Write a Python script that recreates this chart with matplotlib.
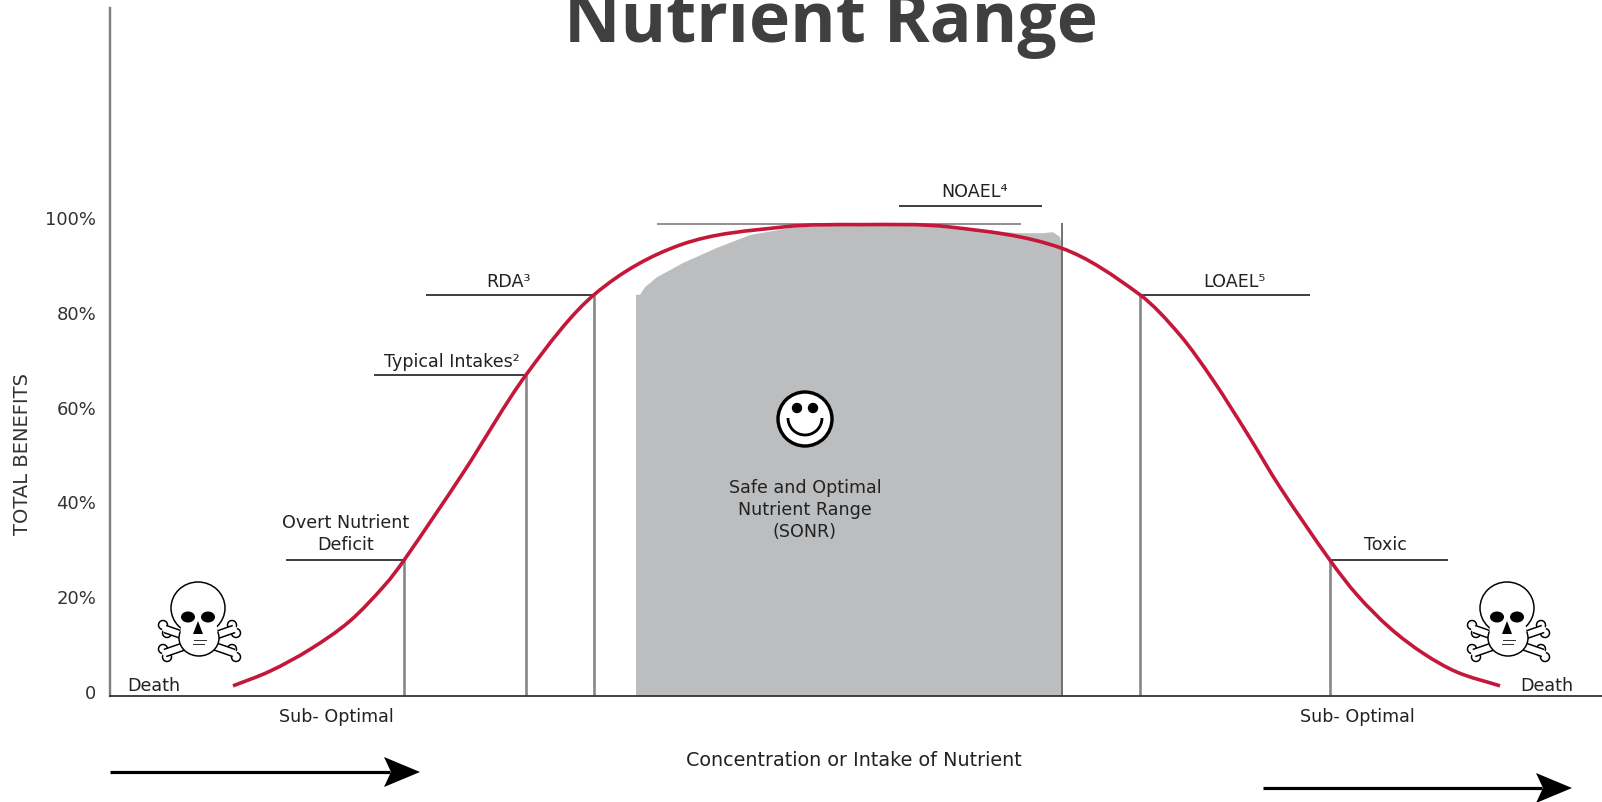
import matplotlib
matplotlib.use("Agg")
import matplotlib.pyplot as plt
from matplotlib.patches import Ellipse, Circle, Polygon, Arc, PathPatch
from matplotlib.path import Path

plt.rcParams['font.family'] = ['DejaVu Sans']

# Curve: x is in intake units (no scale in the original), y in %
curve_x = [233, 270, 310, 350, 385, 404, 463, 526, 594, 680, 783, 860, 950, 1062, 1140, 1180, 1213, 1247, 1280,
           1330, 1357, 1390, 1423, 1457, 1500]
curve_y = [1.3, 4.4, 9.0, 15.0, 22.6, 27.8, 46.2, 66.9, 83.8, 94.3, 98.1, 98.6, 98.1, 93.6, 83.8, 75.3, 65.8, 54.6, 43.2,
           27.8, 20.5, 13.5, 8.2, 4.2, 1.3]

# Grey safe range, outline
sonr_x = [636, 636, 640, 645, 657, 683, 717, 750, 790, 833, 900, 967, 1017, 1043, 1053, 1060, 1062, 1062]
sonr_y = [-0.84, 83.8, 83.8, 85.4, 87.5, 90.5, 93.7, 96.4, 97.9, 98.5, 98.5, 97.8, 96.8, 96.8, 97.0, 96.0, 94.0, -0.84]

y_ticks = [0, 20, 40, 60, 80, 100]
y_tick_labels = ['0', '20%', '40%', '60%', '80%', '100%']

# Markers on the curve
drop_x = [404, 526, 594, 1140, 1330]
drop_y = [27.8, 66.9, 83.8, 83.8, 27.8]
shelf_start = [286, 374, 426, 1140, 1330, 899, 657]
shelf_end = [404, 526, 594, 1310, 1448, 1042, 1021]
shelf_y = [27.8, 66.9, 83.8, 83.8, 27.8, 102.6, 98.7]
shelf_colors = ['#222222'] * 6 + ['#808080']

labels = ['Overt Nutrient\nDeficit', 'Typical Intakes²', 'RDA³', 'NOAEL⁴', 'LOAEL⁵', 'Toxic',
          'Sub- Optimal', 'Sub- Optimal', 'Death', 'Death',
          'Safe and Optimal\nNutrient Range\n(SONR)']
label_x = [346, 452, 508, 975, 1234, 1385, 336, 1357, 154, 1547, 805]
label_y = [534, 362, 282, 192, 282, 545, 717, 717, 686, 686, 510]

W, H = 1602, 802
px = 1 / 100 * 72  # one pixel in points


def smooth_path(xs, ys):
    # Bezier through the read points, so the line is not drawn with corners
    n = len(xs)
    slopes = []
    for i in range(n):
        a = max(i - 1, 0)
        b = min(i + 1, n - 1)
        slopes.append((ys[b] - ys[a]) / (xs[b] - xs[a]))
    verts = [(xs[0], ys[0])]
    codes = [Path.MOVETO]
    for i in range(n - 1):
        h = (xs[i + 1] - xs[i]) / 3
        verts.append((xs[i] + h, ys[i] + slopes[i] * h))
        verts.append((xs[i + 1] - h, ys[i + 1] - slopes[i + 1] * h))
        verts.append((xs[i + 1], ys[i + 1]))
        codes += [Path.CURVE4] * 3
    return Path(verts, codes)


fig = plt.figure(figsize=(W / 100, H / 100), dpi=100)
ax = fig.add_axes([110 / W, (H - 696) / H, (W - 110) / W, (696 - 8) / H])
ax.set_xlim(110, W)
ax.set_ylim(-0.84, 144.3)

ax.fill(sonr_x, sonr_y, color='#bcbdbf', lw=0, zorder=1)
ax.vlines(drop_x, -0.84, drop_y, color='#858585', lw=2.6 * px, zorder=2)
ax.vlines(1062, -0.84, 99, color='#666666', lw=1.8 * px, zorder=2)
ax.hlines(shelf_y, shelf_start, shelf_end, colors=shelf_colors, lw=1.7 * px, zorder=2)
ax.add_patch(PathPatch(smooth_path(curve_x, curve_y), fc='none', ec='#c4173a', lw=3.6 * px,
                       capstyle='butt', zorder=3))

for s in ['top', 'right']:
    ax.spines[s].set_visible(False)
ax.spines['left'].set_color('#808080')
ax.spines['left'].set_linewidth(2.4 * px)
ax.spines['bottom'].set_color('#333333')
ax.spines['bottom'].set_linewidth(1.8 * px)
ax.set_xticks([])
ax.set_yticks(y_ticks)
ax.set_yticklabels(y_tick_labels, fontsize=13, color='#333333')
ax.tick_params(axis='y', length=0, pad=10)

# Overlay in pixels for the notes, icons and arrows
over = fig.add_axes([0, 0, 1, 1], facecolor='none')
over.set_xlim(0, W)
over.set_ylim(H, 0)
over.axis('off')

over.text(831, 42, 'Nutrient Range', fontsize=50, fontweight='bold', color='#3f3f3f',
          family='Open Sans', ha='center', va='baseline')
over.text(23, 454, 'TOTAL BENEFITS', fontsize=14, color='#333333', rotation=90,
          ha='center', va='center')
over.text(854, 761, 'Concentration or Intake of Nutrient', fontsize=13.8, color='#222222',
          ha='center', va='center')

for t, x, y in zip(labels, label_x, label_y):
    over.text(x, y, t, fontsize=12.6, color='#222222', ha='center', va='center', linespacing=1.3)


def skull(cx, cy):
    lw = 1.5 * px
    for (x0, y0, x1, y1) in [(-33, 9, 36, 33), (36, 9, -33, 33)]:
        # two knobs at each end of a bone
        for (ex, ey) in [(x0, y0), (x1, y1)]:
            for dx, dy in [(-2, -4), (2, 4)]:
                over.add_patch(Circle((cx + ex + dx, cy + ey + dy), 4.5, fc='white', ec='black', lw=lw, zorder=5))
        over.plot([cx + x0, cx + x1], [cy + y0, cy + y1], color='black', lw=9 * px,
                  solid_capstyle='butt', zorder=5.05)
        over.plot([cx + x0, cx + x1], [cy + y0, cy + y1], color='white', lw=6 * px,
                  solid_capstyle='round', zorder=5.1)
    over.add_patch(Ellipse((cx + 1, cy + 18), 40, 36, fc='white', ec='black', lw=lw, zorder=5.2))
    over.add_patch(Ellipse((cx, cy - 12), 54, 52, fc='white', ec='black', lw=lw, zorder=5.3))
    over.add_patch(Ellipse((cx + 1, cy + 10), 37, 28, fc='white', ec='none', zorder=5.4))
    over.add_patch(Ellipse((cx - 10, cy - 3), 14, 11, fc='black', ec='none', zorder=6))
    over.add_patch(Ellipse((cx + 10, cy - 3), 14, 11, fc='black', ec='none', zorder=6))
    over.add_patch(Polygon([(cx, cy + 1), (cx - 5, cy + 14), (cx + 5, cy + 14)], fc='black', ec='none', zorder=6))
    over.plot([cx - 4, cx + 8], [cy + 20, cy + 20], color='#333333', lw=1 * px, zorder=6)
    over.plot([cx - 5, cx + 6], [cy + 24, cy + 24], color='#333333', lw=1 * px, zorder=6)


skull(198, 620)
skull(1507, 620)

# Smiley
over.add_patch(Circle((805, 419), 27, fc='white', ec='black', lw=3.4 * px, zorder=5))
over.add_patch(Circle((797, 408), 5.2, fc='black', ec='none', zorder=6))
over.add_patch(Circle((813, 408), 5.2, fc='black', ec='none', zorder=6))
over.add_patch(Arc((805, 418), 34, 34, theta1=0, theta2=180, color='black', lw=2.8 * px, zorder=6))

# Arrows under the axis
for x0, x1, y in [(110, 420, 772), (1263, 1572, 788)]:
    over.plot([x0, x1 - 30], [y, y], color='black', lw=3.2 * px, solid_capstyle='butt')
    over.add_patch(Polygon([(x1 - 36, y - 15), (x1, y), (x1 - 36, y + 15), (x1 - 29, y)], fc='black', ec='none'))

fig.savefig('out.png', dpi=100)
